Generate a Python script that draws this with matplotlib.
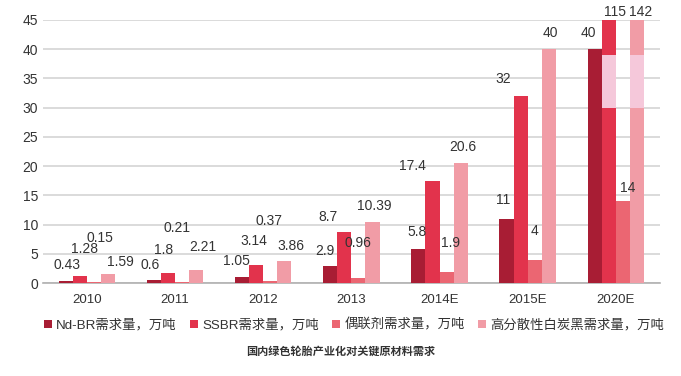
import matplotlib
matplotlib.use('Agg')
import matplotlib.pyplot as plt
import numpy as np

plt.rcParams['font.family'] = ['Liberation Sans', 'Noto Sans CJK SC', 'DejaVu Sans']

# data
years = ['2010', '2011', '2012', '2013', '2014E', '2015E', '2020E']
series_names = ['Nd-BR需求量，万吨', 'SSBR需求量，万吨', '偶联剂需求量，万吨', '高分散性白炭黑需求量，万吨']
nd_br = [0.43, 0.6, 1.05, 2.9, 5.8, 11, 40]
ssbr = [1.28, 1.8, 3.14, 8.7, 17.4, 32, 115]
coupling = [0.15, 0.21, 0.37, 0.96, 1.9, 4, 14]
silica = [1.59, 2.21, 3.86, 10.39, 20.6, 40, 142]
label_texts = [
    ['0.43', '0.6', '1.05', '2.9', '5.8', '11', '40'],
    ['1.28', '1.8', '3.14', '8.7', '17.4', '32', '115'],
    ['0.15', '0.21', '0.37', '0.96', '1.9', '4', '14'],
    ['1.59', '2.21', '3.86', '10.39', '20.6', '40', '142'],
]

# layout of the value labels (as placed in the original)
label_dx = [
    [-0.23, -0.28, -0.30, -0.30, -0.25, -0.28, -0.31],
    [-0.03, -0.13, -0.11, -0.27, -0.31, -0.28, -0.01],
    [0.15, 0.02, 0.06, 0.07, 0.13, 0.08, 0.13],
    [0.38, 0.31, 0.31, 0.26, 0.26, 0.26, 0.28],
]
label_y = [
    [3.1, 3.1, 3.7, 5.5, 8.7, 14.2, 42.8],
    [5.8, 5.7, 7.2, 11.3, 20.0, 34.9, 46.4],
    [7.7, 9.4, 10.6, 6.8, 6.8, 8.9, 16.3],
    [3.6, 6.1, 6.3, 13.2, 23.3, 42.8, 46.4],
]

colors = ['#a81d34', '#e2334c', '#eb6672', '#f19ca6']
band_color = '#f5c8da'

fig = plt.figure(figsize=(6.81, 3.76), dpi=100)
ax = fig.add_axes([0.063, 0.247, 0.906, 0.700])

x = np.arange(len(years))
w = 0.16
all_series = [nd_br, ssbr, coupling, silica]
bars = []
for i, vals in enumerate(all_series):
    b = ax.bar(x + (i - 1.5) * w, vals, w, color=colors[i], label=series_names[i], zorder=3)
    bars.append(b)

# axis break bands on the clipped bars
for i, vals in enumerate(all_series):
    for j, v in enumerate(vals):
        if v > 45:
            ax.bar(x[j] + (i - 1.5) * w, 9, w, bottom=30, color=band_color, zorder=4)

for i in range(4):
    for j in range(len(years)):
        ax.text(x[j] + label_dx[i][j], label_y[i][j], label_texts[i][j],
                ha='center', va='center', fontsize=10, color='#333333', zorder=5)

ax.set_xlim(-0.5, len(years) - 0.5)
ax.set_ylim(0, 45)
ax.set_yticks(range(0, 46, 5))
ax.set_xticks(x)
ax.set_xticklabels(years)
ax.grid(axis='y', color='#d4d4d4', linewidth=1.2, zorder=0)
ax.set_axisbelow(True)
for s in ['top', 'right', 'left']:
    ax.spines[s].set_visible(False)
ax.spines['bottom'].set_color('#b0b0b0')
ax.spines['bottom'].set_linewidth(1.2)
ax.tick_params(axis='both', length=0, labelsize=10, colors='#333333')
ax.tick_params(axis='x', pad=8, labelsize=9.5)

fig.legend(handles=bars, labels=series_names, loc='center', bbox_to_anchor=(0.52, 0.135),
           ncol=4, frameon=False, fontsize=9.6, handlelength=0.6, handleheight=0.6,
           handletextpad=0.3, columnspacing=1.0, labelcolor='#333333')

fig.text(0.5, 0.065, '国内绿色轮胎产业化对关键原材料需求', ha='center', va='center',
         fontsize=8, fontweight='bold', color='#333333')

fig.savefig('out.png', dpi=100)
